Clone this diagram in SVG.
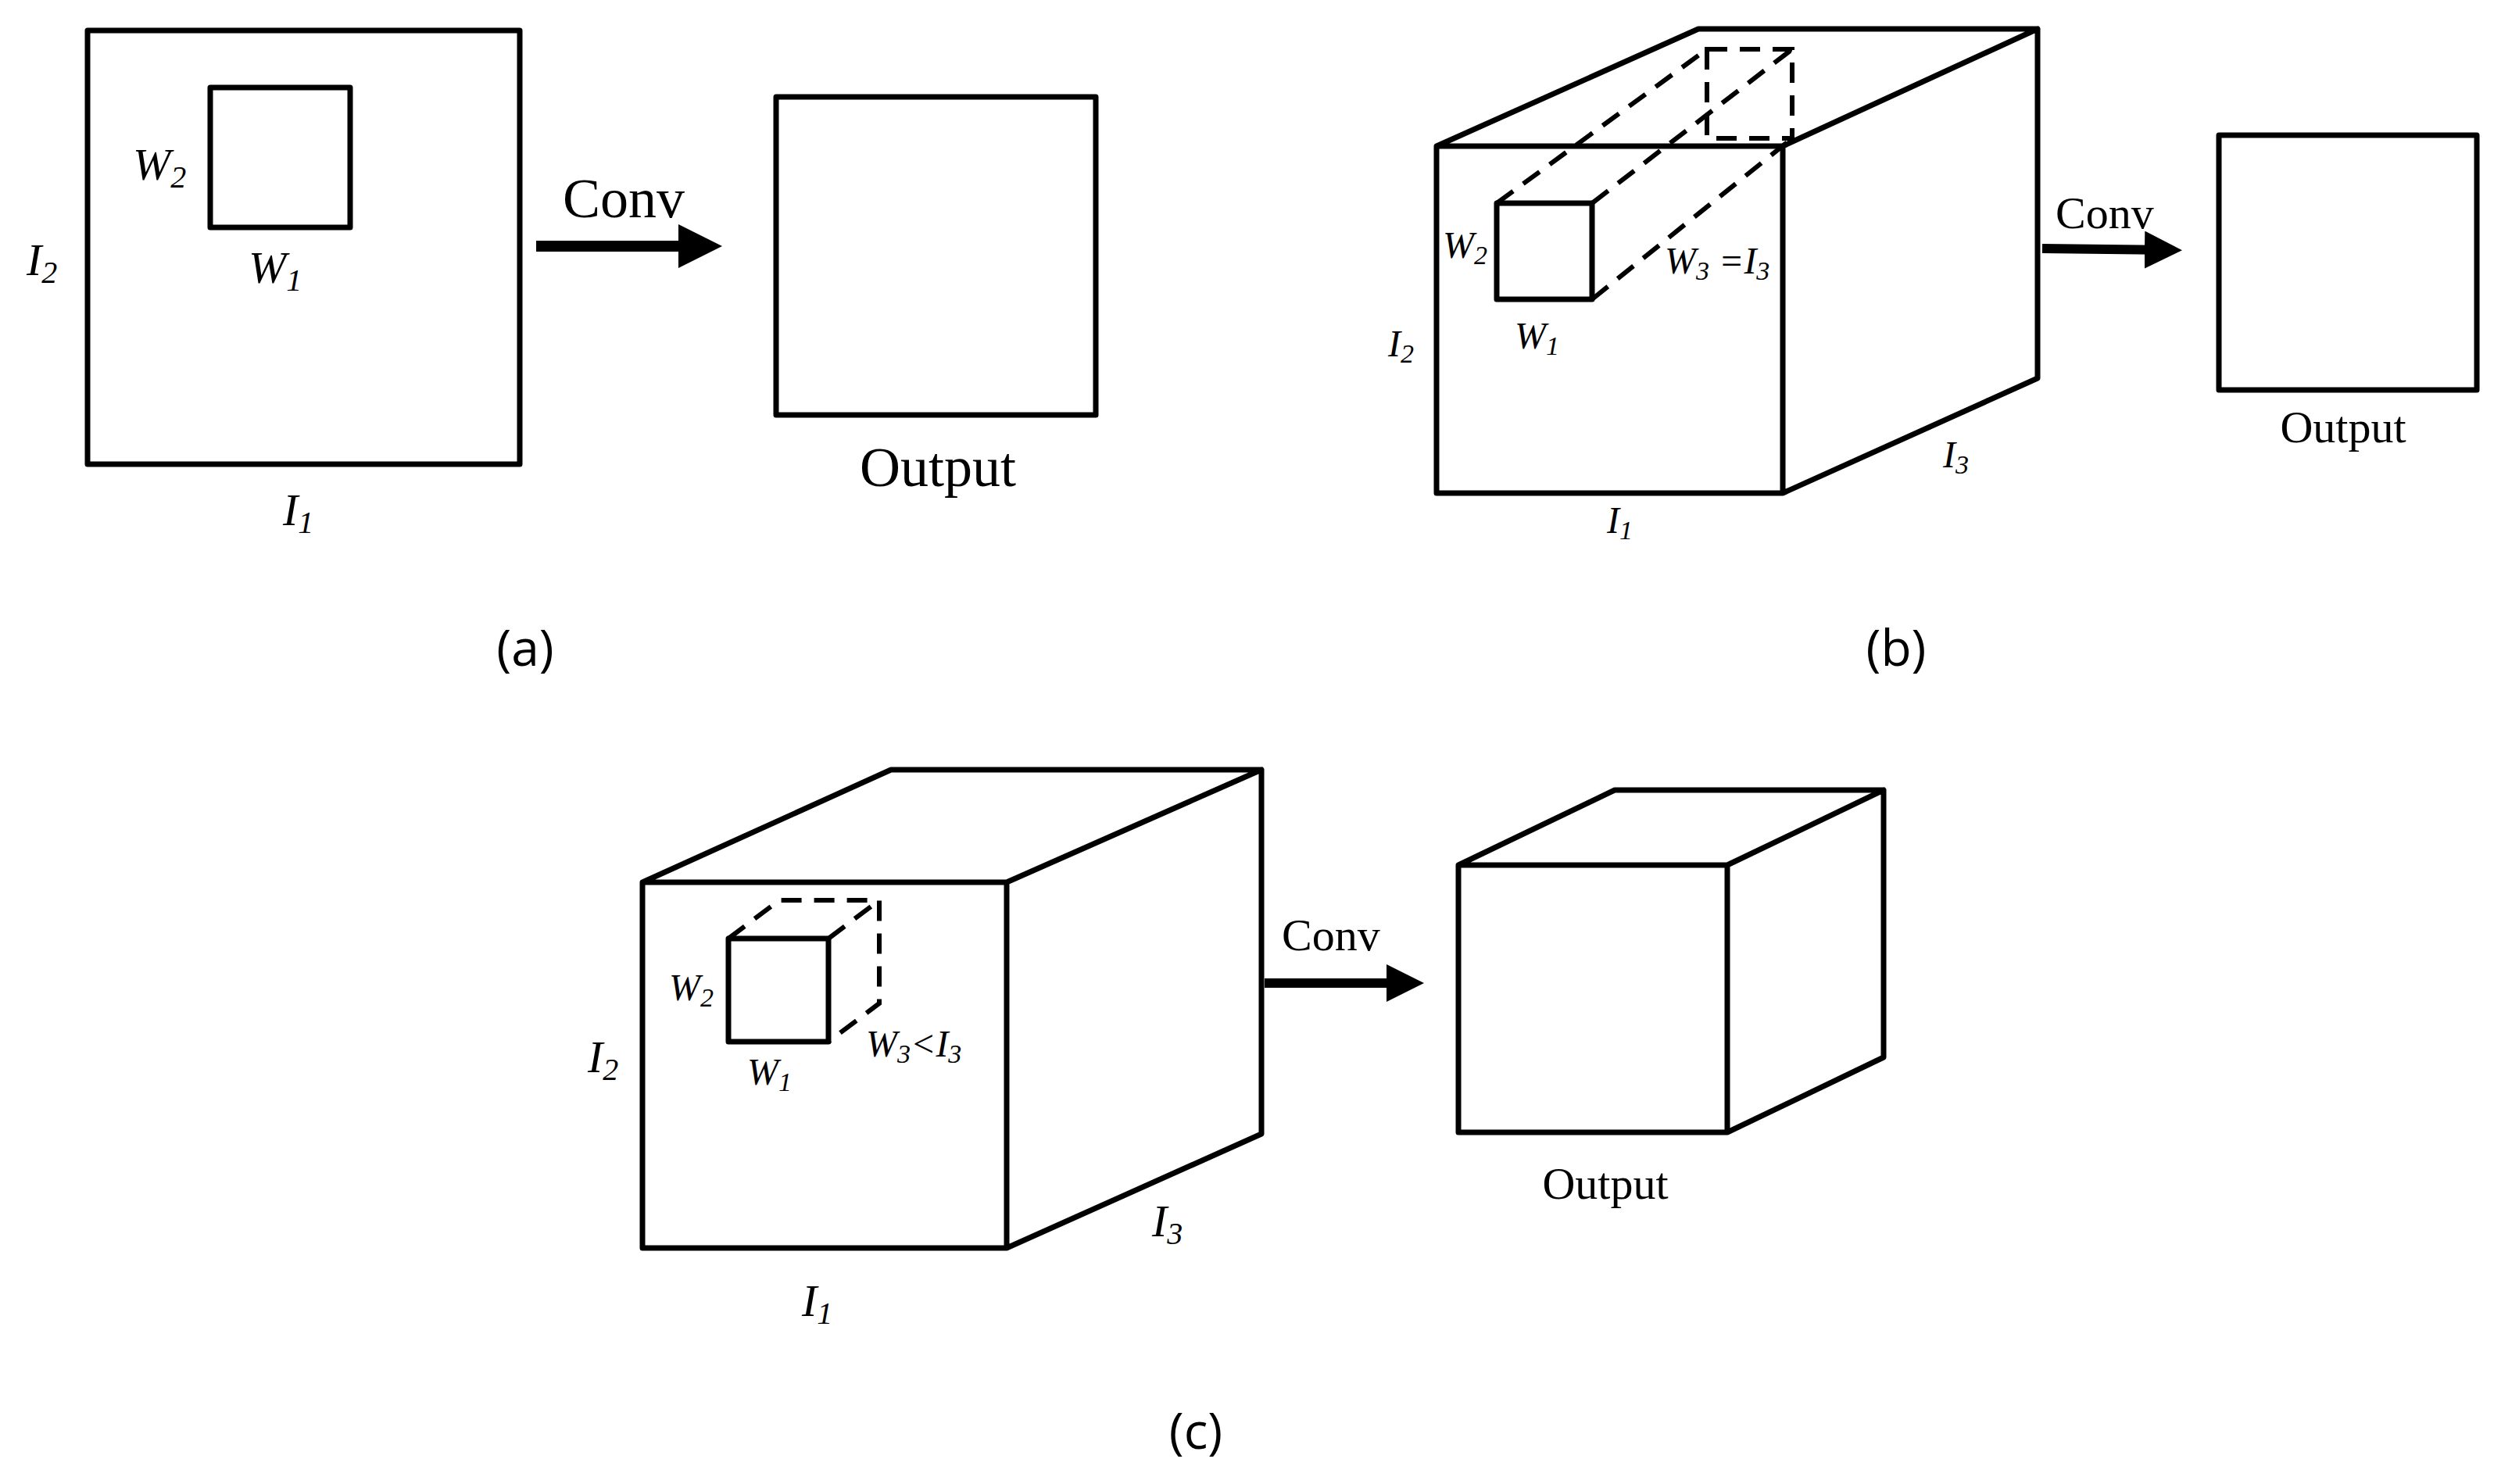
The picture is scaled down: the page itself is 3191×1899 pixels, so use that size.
<svg xmlns="http://www.w3.org/2000/svg" width="3191" height="1899" viewBox="0 0 3191 1899">
<style>
.s{fill:none;stroke:#000;stroke-width:7;stroke-linejoin:round;stroke-linecap:round}
.d{fill:none;stroke:#000;stroke-width:6;stroke-dasharray:26,16}
text{font-family:"Liberation Serif",serif;fill:#000}
.v{font-style:italic}
.cap{font-family:"Open Sans",sans-serif;font-size:64px;text-anchor:middle}
.m{text-anchor:middle}
</style>
<defs><marker id="ah" markerWidth="4" markerHeight="4" refX="3" refY="2" orient="auto" markerUnits="strokeWidth"><path d="M0,0L4,2L0,4z" fill="#000"/></marker></defs>
<rect width="3191" height="1899" fill="#fff"/>
<g id="a">
<g id="a-input"><rect class="s" x="112" y="39" width="553" height="555"/><rect class="s" x="269" y="112" width="179" height="179"/>
<text class="v" x="170" y="230" font-size="58">W<tspan font-size="40" dy="10">2</tspan></text>
<text class="v" x="318" y="362" font-size="58">W<tspan font-size="40" dy="10">1</tspan></text>
<text class="v" x="34" y="352" font-size="58">I<tspan font-size="40" dy="10">2</tspan></text>
<text class="v" x="362" y="672" font-size="58">I<tspan font-size="40" dy="10">1</tspan></text></g>
<g id="a-output"><rect class="s" x="993" y="124" width="409" height="407"/><text class="m" x="1200" y="622" font-size="72">Output</text></g>
<text class="cap" x="672" y="852">(a)</text>
</g>
<g id="b">
<g id="b-input"><path class="s" d="M1838,187L2173,37L2607,37L2607,484L2281,631L1838,631Z M1838,187L2281,187L2607,37 M2281,187L2281,631"/>
<rect class="s" x="1915" y="260" width="122" height="123"/>
<rect class="d" x="2184" y="63" width="109" height="114"/>
<path class="d" d="M1915,260L2184,63 M2037,260L2293,63 M2037,383L2293,177"/>
<text class="v" x="1846" y="330" font-size="48">W<tspan font-size="34" dy="8">2</tspan></text>
<text class="v" x="1938" y="446" font-size="48">W<tspan font-size="34" dy="8">1</tspan></text>
<text class="v" x="2130" y="350" font-size="48">W<tspan font-size="34" dy="8">3</tspan><tspan dy="-8"> =I</tspan><tspan font-size="34" dy="8">3</tspan></text>
<text class="v" x="1776" y="456" font-size="48">I<tspan font-size="34" dy="8">2</tspan></text>
<text class="v" x="2056" y="682" font-size="48">I<tspan font-size="34" dy="8">1</tspan></text>
<text class="v" x="2486" y="598" font-size="48">I<tspan font-size="34" dy="8">3</tspan></text></g>
<g id="b-output"><rect class="s" x="2839" y="173" width="330" height="326"/><text class="m" x="2998" y="566" font-size="58">Output</text></g>
<text class="cap" x="2426" y="852">(b)</text>
</g>
<g id="c">
<g id="c-input"><path class="s" d="M822,1129L1140,985L1614,985L1614,1451L1288,1597L822,1597Z M822,1129L1288,1129L1614,985 M1288,1129L1288,1597"/>
<rect class="s" x="932" y="1201" width="128" height="132"/>
<path class="d" d="M932,1201L997,1152L1125,1152L1125,1284L1060,1333 M1060,1201L1125,1152"/>
<text class="v" x="856" y="1280" font-size="48">W<tspan font-size="34" dy="8">2</tspan></text>
<text class="v" x="956" y="1388" font-size="48">W<tspan font-size="34" dy="8">1</tspan></text>
<text class="v" x="1108" y="1352" font-size="48">W<tspan font-size="34" dy="8">3</tspan><tspan dy="-8">&lt;I</tspan><tspan font-size="34" dy="8">3</tspan></text>
<text class="v" x="752" y="1372" font-size="58">I<tspan font-size="40" dy="10">2</tspan></text>
<text class="v" x="1026" y="1684" font-size="58">I<tspan font-size="40" dy="10">1</tspan></text>
<text class="v" x="1474" y="1582" font-size="58">I<tspan font-size="40" dy="10">3</tspan></text></g>
<g id="c-output"><path class="s" d="M1866,1107L2066,1011L2410,1011L2410,1353L2210,1449L1866,1449Z M1866,1107L2210,1107L2410,1011 M2210,1107L2210,1449"/>
<text class="m" x="2054" y="1534" font-size="58">Output</text></g>
<text class="cap" x="1530" y="1854">(c)</text>
</g>
<g id="connectors">
<line x1="686" y1="315" x2="910" y2="315" stroke="#000" stroke-width="14" marker-end="url(#ah)"/>
<text x="720" y="278" font-size="72">Conv</text>
<line x1="2613" y1="318" x2="2780" y2="320" stroke="#000" stroke-width="12" marker-end="url(#ah)"/>
<text x="2630" y="292" font-size="58">Conv</text>
<line x1="1618" y1="1258" x2="1810" y2="1258" stroke="#000" stroke-width="12" marker-end="url(#ah)"/>
<text x="1640" y="1216" font-size="58">Conv</text>
</g>
</svg>
